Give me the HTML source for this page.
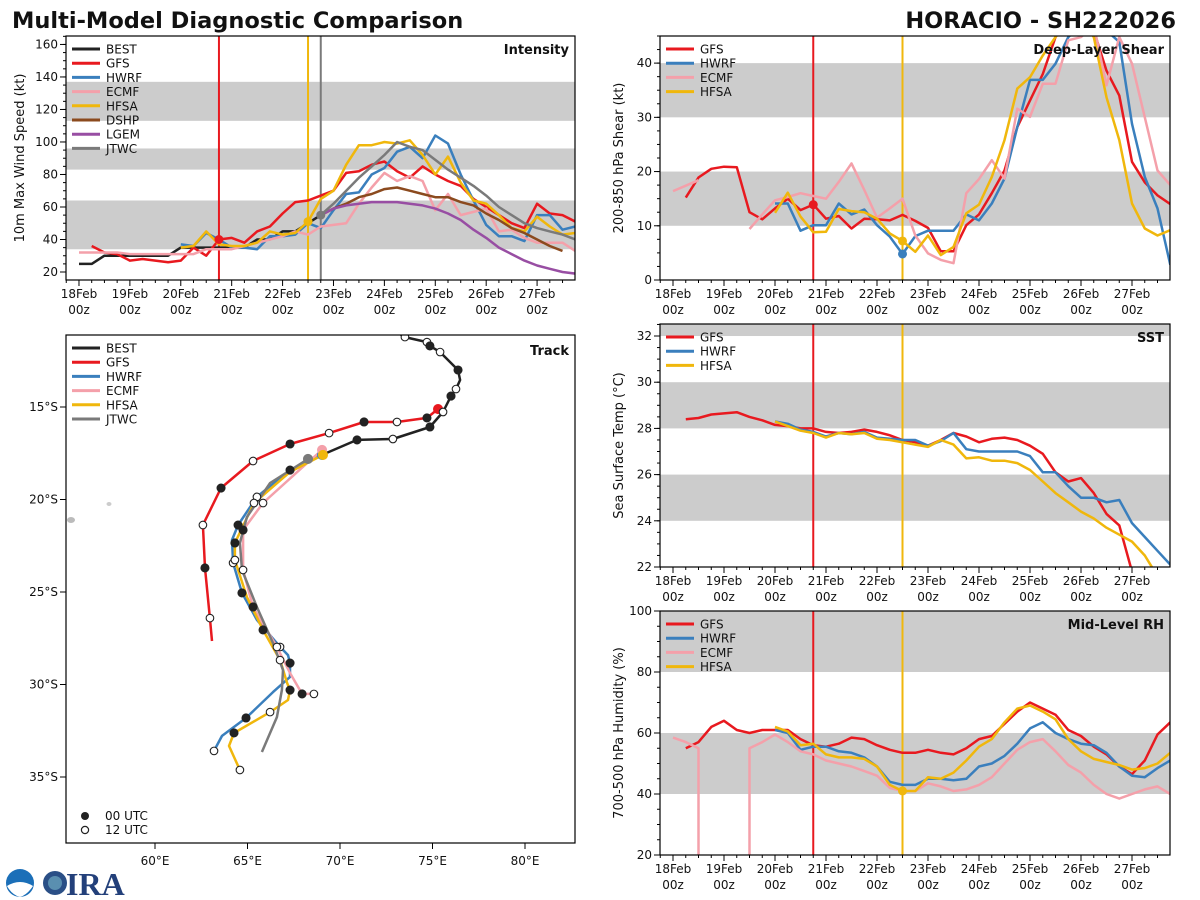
<!DOCTYPE html>
<html><head><meta charset="utf-8"><style>
html,body{margin:0;padding:0;background:#fff;width:1200px;height:900px;overflow:hidden;}
svg{display:block;font-family:"DejaVu Sans","Liberation Sans",sans-serif;}
</style></head><body>
<svg id="fig" width="1200" height="900" viewBox="0 0 1200 900" xmlns="http://www.w3.org/2000/svg">
<text x="12" y="28" font-size="22.5" font-weight="bold" fill="#111">Multi-Model Diagnostic Comparison</text>
<text x="1176" y="28" font-size="22.5" font-weight="bold" fill="#111" text-anchor="end">HORACIO - SH222026</text>
<g>
<circle cx="20" cy="883" r="14" fill="#1b6fb8"/>
<path d="M7 886 Q20 878 33 886 Q27 895 20 897 Q12 895 7 886Z" fill="#fff"/>
<circle cx="55" cy="883" r="12" fill="#2a4f86"/>
<circle cx="55" cy="883" r="7" fill="#5a8fb0"/>
<text x="66" y="895" font-size="32" font-weight="bold" fill="#23407a" font-family="Liberation Serif, serif">IRA</text>
</g>
</svg>
<script>
// ---------- DATA ----------
const BEST_INT_START = 0;
const BEST_INT = [25,25,30,30,30,30,30,30,35,35,35,35,35,35,40,40,45,45,50,55];
const GFS_INT_START = 0.25;
const GFS_INT = [36,32,31,27,28,27,26,27,35,30,40,41,38,45,48,56,63,64,67,70,81,82,86,88,82,78,85,80,76,73,65,60,55,50,47,62,56,55,51];
const HWRF_INT_START = 2;
const HWRF_INT = [37,36,44,40,35,35,34,42,42,43,50,47,58,68,69,80,84,94,97,90,104,99,80,64,49,42,42,39,55,55,46,48];
const ECMF_INT_START = 0;
const ECMF_INT = [32,32,32,32,31,31,31,31,31,31,34,34,34,36,38,40,42,45,43,48,49,50,62,72,81,76,79,76,58,68,55,57,59,45,46,41,38,38,38,33];
const HFSA_INT_START = 2;
const HFSA_INT = [35,36,45,37,36,36,38,45,43,44,51,65,70,86,98,98,100,99,101,92,80,91,75,64,62,55,47,45,54,48,43,44];
const DSHP_INT_START = 4.75;
const DSHP_INT = [55,59,62,66,68,71,72,70,68,66,66,63,61,56,52,47,44,40,36,33];
const LGEM_INT_START = 4.75;
const LGEM_INT = [55,59,61,62,63,63,63,62,61,59,56,52,46,41,35,31,27,24,22,20,19];
const JTWC_INT_START = 4.75;
const JTWC_INT = [55,62,70,78,85,92,100,97,95,89,83,78,73,67,60,55,50,47,45,43,40];

const GFS_SHR_START = 0.25;
const GFS_SHR = [15.2,18.9,20.5,20.9,20.8,12.5,11.2,13.2,15,12.9,13.9,11.3,11.8,9.5,11.3,11.2,11,12,10.9,9.6,5.3,5.3,10.1,12.1,16,20.2,28.2,33.1,38,44.8,48,48,46,38.6,34,21.8,18,15.6,14];
const HWRF_SHR_START = 2;
const HWRF_SHR = [14.1,14.1,9.1,10.1,10.1,14.1,12.1,13,10.1,8,4.8,8.1,9.1,9.1,9.1,12.1,11,14.1,18.7,28.2,36.9,36.9,39.9,44.8,47,47,46,43.9,28.8,19,13.2,2.8];
const ECMF_SHR_START = 0;
const ECMF_SHR = [16.4,17.4,18.4,null,null,null,9.4,12.1,14.7,15.3,16,15.5,15,18.1,21.5,16.6,11.5,13.2,15,8.2,4.9,3.7,3.1,16,18.6,22.1,18.7,31.6,30.1,36.2,36.2,44.2,44.8,47,35.9,44.8,39.9,30,20.2,17.5];
const HFSA_SHR_START = 2;
const HFSA_SHR = [12.4,16.1,11.7,8.8,8.9,13.1,12.7,12.5,11.3,8.6,7.2,5.2,8.2,4.6,6.1,12.3,13.9,19,25.8,35.3,37.4,41.4,44.8,48,48,44.8,33.7,25.8,14.1,9.5,8.2,9.2];

const GFS_SST_START = 0.25;
const GFS_SST = [28.4,28.45,28.6,28.65,28.7,28.5,28.35,28.15,28.1,28.0,28.0,27.85,27.8,27.85,27.95,27.85,27.7,27.5,27.4,27.25,27.5,27.8,27.65,27.4,27.55,27.6,27.5,27.25,26.9,26.1,25.7,25.85,25.2,24.3,23.8,21.8];
const HWRF_SST_START = 2;
const HWRF_SST = [28.3,28.2,27.95,27.85,27.65,27.8,27.75,27.85,27.6,27.55,27.5,27.5,27.25,27.45,27.8,27.1,27.0,27.0,27.0,27.0,26.8,26.1,26.1,25.5,25.0,25.0,24.8,24.9,23.9,23.3,22.7,22.1];
const HFSA_SST_START = 2;
const HFSA_SST = [28.3,28.1,27.9,27.8,27.6,27.8,27.75,27.8,27.55,27.5,27.4,27.3,27.2,27.5,27.3,26.7,26.75,26.6,26.6,26.5,26.2,25.7,25.2,24.8,24.4,24.1,23.7,23.4,23.1,22.5,21.6,20.6];

const GFS_RH_START = 0.25;
const GFS_RH = [55,57,62,64,61,60,61,61,61,58,56,55.5,56.5,58.5,58,56,54.5,53.5,53.5,54.5,53.5,53,55,58,59,63,67,70,68,66,61,59,55.5,53,49,46.5,51,59.5,63.5];
const HWRF_RH_START = 2;
const HWRF_RH = [61,60,54.5,55.5,55.5,54,53.5,52,49,44,43,43,45,45,44.5,45,49,50,52.5,56.5,61.5,63.5,60,58,56.5,56,53.5,49,46,45.5,48.5,51];
const ECMF_RH_START = 0;
const ECMF_RH = [58.5,57,55,-999,-999,-999,55,57,59.5,57,54,53,51,50,49,47.5,46,42,41,41,43.5,42.5,41,41.5,43,45.5,50,54.5,57,58,54,49.5,47,43,40,38.5,40,41.5,42.5,40];
const HFSA_RH_START = 2;
const HFSA_RH = [62,60.5,56,56.5,53,52,52,51.5,49,43,41,41,45.5,45,47,51,55.5,58,63.5,68,69,67,64.5,58,54,51.5,50.5,49.5,48,48.5,50,53.5];

const DAY_LABELS = ["18Feb","19Feb","20Feb","21Feb","22Feb","23Feb","24Feb","25Feb","26Feb","27Feb"];
const INT_TICKS = [20,40,60,80,100,120,140,160];
const SHR_TICKS = [0,10,20,30,40];
const SST_TICKS = [22,24,26,28,30,32];
const RH_TICKS = [20,40,60,80,100];
const LON_TICKS = [60,65,70,75,80];
const LAT_TICKS = [-15,-20,-25,-30,-35];

const T_GFS_INIT = 2.75, T_HFSA_INIT = 4.5, T_JTWC_INIT = 4.75;

const BEST_LON = [72.97,73.51,74.70,74.86,75.41,76.38,76.49,76.27,76.00,75.57,74.86,72.86,70.92,69.03];
const BEST_LAT = [-10.89,-11.22,-11.49,-11.70,-12.03,-13.00,-13.54,-14.03,-14.41,-15.27,-16.08,-16.73,-16.78,-17.59];
const BEST_MK = ["","H","H","F","H","F","","H","F","H","F","H","F",""];
const GFS_LON = [75.30,74.70,73.08,71.30,69.41,67.30,65.30,63.57,62.59,62.70,62.97,63.08];
const GFS_LAT = [-15.11,-15.59,-15.81,-15.81,-16.41,-17.00,-17.92,-19.38,-21.38,-23.70,-26.41,-27.65];
const GFS_MK = ["D","F","H","F","H","F","H","F","H","F","H",""];
const HWRF_LON = [69.03,67.30,65.51,64.49,64.16,64.22,64.70,65.51,66.76,67.19,67.30,67.30,66.38,64.92,63.62,63.19];
const HWRF_LAT = [-17.59,-18.41,-19.86,-21.38,-22.19,-23.43,-25.05,-26.51,-27.97,-28.41,-28.84,-29.59,-30.41,-31.81,-32.78,-33.59];
const HWRF_MK = ["D","F","H","F","","H","F","","H","","F","","","F","","H"];
const HFSA_LON = [69.08,67.30,65.35,64.32,64.32,64.97,65.84,66.76,67.14,67.30,67.19,66.22,64.27,64.00,64.59];
const HFSA_LAT = [-17.59,-18.51,-20.19,-22.35,-23.27,-25.27,-27.05,-28.68,-29.92,-30.30,-30.84,-31.49,-32.62,-33.32,-34.62];
const HFSA_MK = ["D","","H","F","H","","F","H","","F","","H","F","","H"];
const ECMF_LON = [69.03,68.22,65.84,64.76,64.76,65.30,66.59,67.30,67.95,68.59];
const ECMF_LAT = [-17.32,-18.03,-20.19,-21.65,-23.81,-25.81,-27.97,-29.38,-30.51,-30.51];
const ECMF_MK = ["D","","H","F","H","F","H","","F","H"];
const JTWC_LON = [68.27,66.22,64.97,64.59,64.70,65.51,66.38,66.92,66.86,66.59,65.78];
const JTWC_LAT = [-17.81,-19.11,-20.95,-22.35,-23.81,-25.81,-27.76,-29.22,-30.30,-31.76,-33.65];
const JTWC_MK = ["D","","","","","","","","","",""];

// ---------- RENDER ----------
const NS = "http://www.w3.org/2000/svg";
const svg = document.getElementById("fig");
const C = {BEST:"#222222",GFS:"#e8191f",HWRF:"#3a7fbd",ECMF:"#f4a0aa",HFSA:"#f0b70c",DSHP:"#8b4a1e",LGEM:"#984ea3",JTWC:"#7a7a7a",band:"#cccccc"};
function el(tag, attrs, parent){const e=document.createElementNS(NS,tag);for(const k in attrs)e.setAttribute(k,attrs[k]);(parent||svg).appendChild(e);return e;}
let clipN=0;

function timePanel(cfg){
  const g = el("g",{});
  
  
  const {x0,x1,y0,y1,ymin,ymax} = cfg;
  const tx = t => x0 + (t + 0.255) * (x1 - x0) / 10.0;
  const vyRaw = v => y1 - (v - ymin) * (y1 - y0) / (ymax - ymin);
  const vy = v => Math.max(y0-40, Math.min(y1+40, vyRaw(v)));
  const cid = "clip"+(clipN++);
  const cp = el("clipPath",{id:cid},g); el("rect",{x:x0,y:y0,width:x1-x0,height:y1-y0},cp);
  const pg = el("g",{"clip-path":"url(#"+cid+")"},g);
  cfg.bands.forEach(b=>{
    const top=vy(Math.min(b[1],ymax+5)), bot=vy(b[0]);
    const r=el("rect",{x:x0,y:top,width:x1-x0,height:bot-top,fill:C.band},pg);
    
    
  });
  cfg.vlines.forEach(v=>{
    const l=el("line",{x1:tx(v[0]),x2:tx(v[0]),y1:y0,y2:y1,stroke:v[1],"stroke-width":2},pg);
    
    
  });
  cfg.series.forEach(s=>{
    let d="", pen=false, dropped=false, lastX=null;
    s.vals.forEach((v,i)=>{
      const t=s.start+i*0.25, x=tx(t);
      if(v===null){pen=false;return;}
      if(v<=-900){ // missing flag: drop to axis bottom
        if(pen && !dropped){ d += "L"+lastX.toFixed(1)+" "+(y1+2)+" "; }
        dropped=true; pen=false; return;
      }
      if(dropped){ d += "M"+x.toFixed(1)+" "+(y1+2)+" "; pen=true; dropped=false; }
      d += (pen?"L":"M")+x.toFixed(1)+" "+vy(v).toFixed(1)+" ";
      pen=true; lastX=x;
    });
    const p=el("path",{d:d,fill:"none",stroke:C[s.key],"stroke-width":2.5,"stroke-linejoin":"round"},pg);
    
    
  });
  cfg.markers.forEach(m=>{
    const s=m[0]; const i=Math.round((m[1]-s.start)/0.25);
    const c=el("circle",{cx:tx(m[1]),cy:vy(s.vals[i]),r:4.5,fill:C[s.key]},pg);
    
    
  });
  el("rect",{x:x0,y:y0,width:x1-x0,height:y1-y0,fill:"none",stroke:"#000","stroke-width":1.2},g);
  for(let k=-1;k<=39;k++){const t=k*0.25; const x=tx(t); if(x<x0||x>x1)continue;
    const major = k%4===0;
    el("line",{x1:x,x2:x,y1:y1,y2:y1+(major?6:3),stroke:"#000","stroke-width":1},g);}
  DAY_LABELS.forEach((lab,i)=>{
    const x=tx(i);
    const a=el("text",{x:x,y:y1+18,"font-size":12,"text-anchor":"middle",fill:"#111"},g); a.textContent=lab;
    
    
    const b=el("text",{x:x,y:y1+34,"font-size":12,"text-anchor":"middle",fill:"#111"},g); b.textContent="00z";
    
    
  });
  for(let v=Math.ceil(ymin/cfg.minor)*cfg.minor; v<=ymax; v+=cfg.minor){
    el("line",{x1:x0,x2:x0-3,y1:vy(v),y2:vy(v),stroke:"#000","stroke-width":1},g);}
  cfg.yticks.forEach(v=>{
    el("line",{x1:x0,x2:x0-6,y1:vy(v),y2:vy(v),stroke:"#000","stroke-width":1},g);
    const t=el("text",{x:x0-8,y:vy(v)+4,"font-size":12,"text-anchor":"end",fill:"#111"},g); t.textContent=v;
    
    
  });
  const yl=el("text",{x:0,y:0,"font-size":13,"text-anchor":"middle",fill:"#111",transform:`translate(${cfg.ylx},${(y0+y1)/2}) rotate(-90)`},g);
  yl.textContent=cfg.ylabel;
  
  
  const ti=el("text",{x:x1-6,y:y0+18,"font-size":13,"font-weight":"bold","text-anchor":"end",fill:"#111"},g);
  ti.textContent=cfg.title;
  
  
  legend(g, x0+6, y0+13, cfg.series.map(s=>s.key));
}
function legend(g, x, y, keys){
  keys.forEach((k,i)=>{
    const yy=y+i*14.2;
    const lg=el("g",{},g);
    
    
    el("line",{x1:x,x2:x+28,y1:yy,y2:yy,stroke:C[k],"stroke-width":3},lg);
    const t=el("text",{x:x+34,y:yy+4.5,"font-size":12,fill:"#111"},lg); t.textContent=k;
  });
}

timePanel({name:"intensity-panel",x0:66,x1:575,y0:36,y1:280,ymin:15.08,ymax:165.2,minor:5,yticks:INT_TICKS,
  bands:[[34,64],[83,96],[113,137]], ylabel:"10m Max Wind Speed (kt)", ylx:24, title:"Intensity",
  vlines:[[T_GFS_INIT,C.GFS],[T_HFSA_INIT,C.HFSA],[T_JTWC_INIT,C.JTWC]],
  series:[{key:"BEST",start:BEST_INT_START,vals:BEST_INT},{key:"GFS",start:GFS_INT_START,vals:GFS_INT},
    {key:"HWRF",start:HWRF_INT_START,vals:HWRF_INT},{key:"ECMF",start:ECMF_INT_START,vals:ECMF_INT},
    {key:"HFSA",start:HFSA_INT_START,vals:HFSA_INT},{key:"DSHP",start:DSHP_INT_START,vals:DSHP_INT},
    {key:"LGEM",start:LGEM_INT_START,vals:LGEM_INT},{key:"JTWC",start:JTWC_INT_START,vals:JTWC_INT}],
  markers:[[{key:"GFS",start:GFS_INT_START,vals:GFS_INT},T_GFS_INIT],[{key:"HFSA",start:HFSA_INT_START,vals:HFSA_INT},T_HFSA_INIT],[{key:"JTWC",start:JTWC_INT_START,vals:JTWC_INT},T_JTWC_INIT]]});
timePanel({name:"shear-panel",x0:660,x1:1170,y0:36,y1:280,ymin:0,ymax:45,minor:2.5,yticks:SHR_TICKS,
  bands:[[10,20],[30,40]], ylabel:"200-850 hPa Shear (kt)", ylx:623, title:"Deep-Layer Shear",
  vlines:[[T_GFS_INIT,C.GFS],[T_HFSA_INIT,C.HFSA]],
  series:[{key:"GFS",start:GFS_SHR_START,vals:GFS_SHR},{key:"HWRF",start:HWRF_SHR_START,vals:HWRF_SHR},
    {key:"ECMF",start:ECMF_SHR_START,vals:ECMF_SHR},{key:"HFSA",start:HFSA_SHR_START,vals:HFSA_SHR}],
  markers:[[{key:"GFS",start:GFS_SHR_START,vals:GFS_SHR},T_GFS_INIT],[{key:"HWRF",start:HWRF_SHR_START,vals:HWRF_SHR},T_HFSA_INIT],[{key:"HFSA",start:HFSA_SHR_START,vals:HFSA_SHR},T_HFSA_INIT]]});
timePanel({name:"sst-panel",x0:660,x1:1170,y0:324,y1:567,ymin:22,ymax:32.52,minor:0.5,yticks:SST_TICKS,
  bands:[[24,26],[28,30],[32,40]], ylabel:"Sea Surface Temp (°C)", ylx:623, title:"SST",
  vlines:[[T_GFS_INIT,C.GFS],[T_HFSA_INIT,C.HFSA]],
  series:[{key:"GFS",start:GFS_SST_START,vals:GFS_SST},{key:"HWRF",start:HWRF_SST_START,vals:HWRF_SST},{key:"HFSA",start:HFSA_SST_START,vals:HFSA_SST}],
  markers:[]});
timePanel({name:"rh-panel",x0:660,x1:1170,y0:611,y1:855,ymin:20,ymax:100,minor:5,yticks:RH_TICKS,
  bands:[[40,60],[80,100]], ylabel:"700-500 hPa Humidity (%)", ylx:623, title:"Mid-Level RH",
  vlines:[[T_GFS_INIT,C.GFS],[T_HFSA_INIT,C.HFSA]],
  series:[{key:"GFS",start:GFS_RH_START,vals:GFS_RH},{key:"HWRF",start:HWRF_RH_START,vals:HWRF_RH},
    {key:"ECMF",start:ECMF_RH_START,vals:ECMF_RH},{key:"HFSA",start:HFSA_RH_START,vals:HFSA_RH}],
  markers:[[{key:"HFSA",start:HFSA_RH_START,vals:HFSA_RH},T_HFSA_INIT]]});

// ---------- TRACK ----------
(function(){
  const x0=66,x1=575,y0=335,y1=843;
  const lx = lon => 155 + (lon-60)*18.5;
  const ly = lat => 407 + (-lat-15)*18.5;
  const g=el("g",{});
  
  
  const cp=el("clipPath",{id:"trkclip"},g); el("rect",{x:x0,y:y0,width:x1-x0,height:y1-y0},cp);
  const pg=el("g",{"clip-path":"url(#trkclip)"},g);
  el("ellipse",{cx:71,cy:520,rx:4,ry:3,fill:"#bbb"},pg);
  el("ellipse",{cx:109,cy:504,rx:2.5,ry:2,fill:"#ccc"},pg);
  const tracks=[["HWRF",HWRF_LON,HWRF_LAT,HWRF_MK],["ECMF",ECMF_LON,ECMF_LAT,ECMF_MK],["HFSA",HFSA_LON,HFSA_LAT,HFSA_MK],["JTWC",JTWC_LON,JTWC_LAT,JTWC_MK],["GFS",GFS_LON,GFS_LAT,GFS_MK],["BEST",BEST_LON,BEST_LAT,BEST_MK]];
  tracks.forEach(tr=>{
    const [k,lo,la,mk]=tr;
    const d=lo.map((v,i)=>(i?"L":"M")+lx(v).toFixed(1)+" "+ly(la[i]).toFixed(1)).join(" ");
    const p=el("path",{d:d,fill:"none",stroke:C[k],"stroke-width":2.5,"stroke-linejoin":"round"},pg);
    
    
  });
  tracks.forEach(tr=>{
    const [k,lo,la,mk]=tr;
    mk.forEach((m,i)=>{
      if(!m)return;
      let a;
      if(m==="F") a={r:4,fill:"#222",stroke:"#222"};
      else if(m==="H") a={r:3.8,fill:"#fff",stroke:"#222"};
      else a={r:4.5,fill:C[k],stroke:C[k]};
      const c=el("circle",{cx:lx(lo[i]),cy:ly(la[i]),r:a.r,fill:a.fill,stroke:a.stroke,"stroke-width":1.1},pg);
      
      
    });
  });
  el("rect",{x:x0,y:y0,width:x1-x0,height:y1-y0,fill:"none",stroke:"#000","stroke-width":1.2},g);
  LON_TICKS.forEach(v=>{const x=lx(v);
    el("line",{x1:x,x2:x,y1:y1,y2:y1+6,stroke:"#000"},g);
    const t=el("text",{x:x,y:y1+22,"font-size":12,"text-anchor":"middle",fill:"#111"},g); t.textContent=v+"°E";
    
    });
  LAT_TICKS.forEach(v=>{const y=ly(v);
    el("line",{x1:x0,x2:x0-6,y1:y,y2:y,stroke:"#000"},g);
    const t=el("text",{x:x0-8,y:y+4,"font-size":12,"text-anchor":"end",fill:"#111"},g); t.textContent=(-v)+"°S";
    
    });
  const ti=el("text",{x:x1-6,y:y0+20,"font-size":13,"font-weight":"bold","text-anchor":"end",fill:"#111"},g); ti.textContent="Track";
  
  
  legend(g, 72, 348, ["BEST","GFS","HWRF","ECMF","HFSA","JTWC"]);
  el("circle",{cx:85,cy:816,r:4,fill:"#222"},g);
  const t1=el("text",{x:105,y:820,"font-size":12,fill:"#111"},g); t1.textContent="00 UTC";
  
  
  el("circle",{cx:85,cy:830,r:3.6,fill:"#fff",stroke:"#222","stroke-width":1.2},g);
  const t2=el("text",{x:105,y:834,"font-size":12,fill:"#111"},g); t2.textContent="12 UTC";
  
  
})();
</script>
</body></html>
